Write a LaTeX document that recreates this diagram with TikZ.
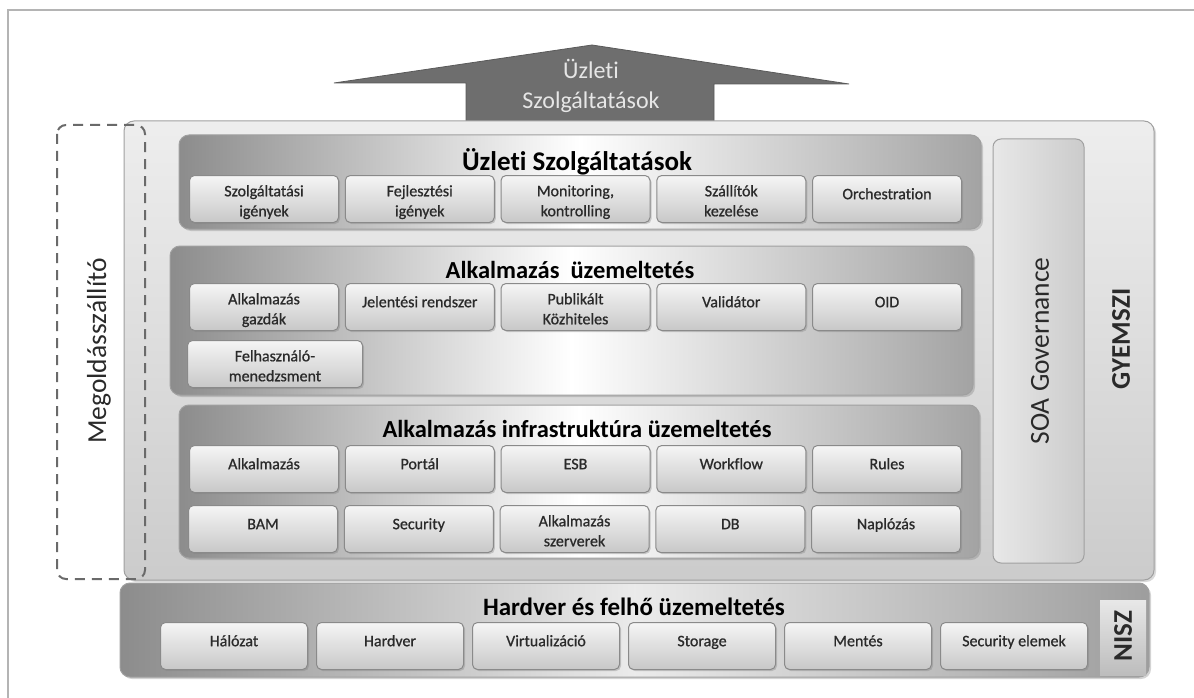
\documentclass[tikz,border=0pt]{standalone}
\usepackage{fontspec}
\setmainfont{Carlito}[Ligatures=NoCommon]
\newfontfamily\boxfont{Carlito}[FakeBold=0.8, Ligatures=NoCommon]
\usetikzlibrary{shadows}
\definecolor{framegray}{HTML}{B4B4B4}
\definecolor{arrowfill}{HTML}{6E6E6E}
\definecolor{arrowedge}{HTML}{5A5A5A}
\definecolor{arrowtext}{HTML}{E6E6E6}
\definecolor{panelfill}{HTML}{E2E2E2}
\definecolor{paneledge}{HTML}{A0A0A0}
\definecolor{layerouter}{HTML}{8C8C8C}
\definecolor{boxtop}{HTML}{F5F5F5}
\definecolor{boxbottom}{HTML}{C8C8C8}
\definecolor{boxedge}{HTML}{8A8A8A}
\definecolor{dashgray}{HTML}{6A6A6A}
\definecolor{textgray}{HTML}{2A2A2A}
\definecolor{niszband}{HTML}{DEDEDE}
\tikzset{
  mainpanel/.style={draw=paneledge, line width=1pt, rounded corners=10pt,
    top color=panelfill!60!white, bottom color=panelfill!90!black,
    drop shadow={shadow xshift=2pt, shadow yshift=-2pt, opacity=0.3}},
  soabox/.style={draw=paneledge, line width=1pt, rounded corners=8pt,
    left color=panelfill!80!white, right color=panelfill!90!black},
  layer/.style={draw=paneledge, line width=1pt, rounded corners=10pt,
    left color=layerouter, right color=layerouter!80!white, middle color=white,
    drop shadow={shadow xshift=2pt, shadow yshift=-2pt, opacity=0.35}},
  smallbox/.style={draw=boxedge, line width=1pt, rounded corners=5pt,
    top color=boxtop, bottom color=boxbottom, anchor=north west,
    minimum width=149pt, minimum height=47pt, inner sep=0pt,
    drop shadow={shadow xshift=1.5pt, shadow yshift=-1.5pt, opacity=0.35}},
  boxtext/.style={anchor=north, inner sep=0pt, yshift=-10pt, align=center,
    text=textgray, font=\boxfont\fontsize{16}{20}\selectfont,
    execute at begin node=\strut},
  layertitle/.style={anchor=base, inner sep=0pt,
    font=\fontsize{24.5}{28}\selectfont\bfseries},
  arrowlabel/.style={align=center, text=arrowtext, inner sep=0pt,
    font=\fontsize{24}{30}\selectfont},
  sidetext/.style={rotate=90, text=textgray, inner sep=0pt,
    font=\fontsize{27.5}{30}\selectfont},
  owner/.style={rotate=90, text=textgray, inner sep=0pt,
    font=\fontsize{27}{30}\selectfont\bfseries}
}
\begin{document}
\begin{tikzpicture}[x=1pt,y=-1pt]
  \useasboundingbox (0,0) rectangle (1194,698);
  % frame
  \draw[framegray, line width=1.5pt] (8,702) -- (8,10) -- (1198,10);
  % arrow on top
  \filldraw[fill=arrowfill, draw=arrowedge, line width=0.8pt]
    (466,122) -- (466,83) -- (334,83) -- (592,45) -- (849,84)
    -- (714,84) -- (714,122) -- cycle;
  \node[arrowlabel] (uplabel) at (591,86) {Üzleti\\Szolgáltatások};
  % GYEMSZI panel
  \draw[mainpanel] (124,121) rectangle (1154,580);
  \draw[soabox] (993,139) rectangle (1084,563);
  \node[sidetext] (soa) at (1040,351) {SOA Governance};
  \node[owner] (gyemszi) at (1121,339) {GYEMSZI};
  % Üzleti Szolgáltatások
  \draw[layer] (179,135) rectangle (981,229);
  \node[layertitle, font=\fontsize{27}{30}\selectfont\bfseries]
    (uzltitle) at (577,170) {Üzleti Szolgáltatások};
  \foreach \i/\t in {0/{Szolgáltatási\\igények}, 1/{Fejlesztési\\igények},
      2/{Monitoring,\\kontrolling}, 3/{Szállítók\\kezelése}, 4/{Orchestration}}
  {
    \node[smallbox] (uzl\i) at ({189+155.75*\i},175) {};
    \node[boxtext] (uzlt\i) at (uzl\i.north) {\t};
  }
  % Alkalmazás üzemeltetés
  \draw[layer] (170,246) rectangle (973,395);
  \node[layertitle] (alktitle) at (570,278) {Alkalmazás\ \ üzemeltetés};
  \foreach \i/\t in {0/{Alkalmazás\\gazdák}, 1/{Jelentési rendszer},
      2/{Publikált\\Közhiteles}, 3/{Validátor}, 4/{OID}}
  {
    \node[smallbox] (alk\i) at ({189+155.75*\i},283) {};
    \node[boxtext] (alkt\i) at (alk\i.north) {\t};
  }
  \node[smallbox, minimum width=175pt] (felh) at (187,340) {};
  \node[boxtext] (felht) at (felh.north) {Felhasználó-\\menedzsment};
  % Alkalmazás infrastruktúra üzemeltetés
  \draw[layer] (179,405) rectangle (979,558);
  \node[layertitle] (inftitle) at (577,437) {Alkalmazás infrastruktúra üzemeltetés};
  \foreach \i/\t in {0/Alkalmazás, 1/Portál, 2/ESB, 3/Workflow, 4/Rules}
  {
    \node[smallbox] (inf\i) at ({189+155.75*\i},445) {};
    \node[boxtext] (inft\i) at (inf\i.north) {\t};
  }
  \foreach \i/\t in {0/BAM, 1/Security, 2/{Alkalmazás\\szerverek}, 3/DB, 4/Naplózás}
  {
    \node[smallbox] (srv\i) at ({188+155.75*\i},505) {};
    \node[boxtext] (srvt\i) at (srv\i.north) {\t};
  }
  % Hardver és felhő üzemeltetés
  \draw[layer, left color=layerouter, right color=layerouter!85!white,
    middle color=panelfill!70!white] (120,583) rectangle (1149,677);
  \shade[top color=niszband!70!white, bottom color=niszband!85!black]
    (1100,600) rectangle (1146,675);
  \node[owner] (nisz) at (1123,636) {NISZ};
  \node[layertitle, font=\fontsize{25}{28}\selectfont\bfseries]
    (hwtitle) at (634,615) {Hardver és felhő üzemeltetés};
  \foreach \i/\t in {0/Hálózat, 1/Hardver, 2/Virtualizáció, 3/Storage,
      4/Mentés, 5/Security elemek}
  {
    \node[smallbox, minimum width=147pt] (hw\i) at ({160+156*\i},622) {};
    \node[boxtext] (hwt\i) at (hw\i.north) {\t};
  }
  % Megoldásszállító
  \draw[dashgray, line width=2pt, dash pattern=on 10pt off 7pt,
    rounded corners=9pt] (57,125) rectangle (145,579);
  \node[sidetext] (megold) at (99,351) {Megoldásszállító};
\end{tikzpicture}
\end{document}
